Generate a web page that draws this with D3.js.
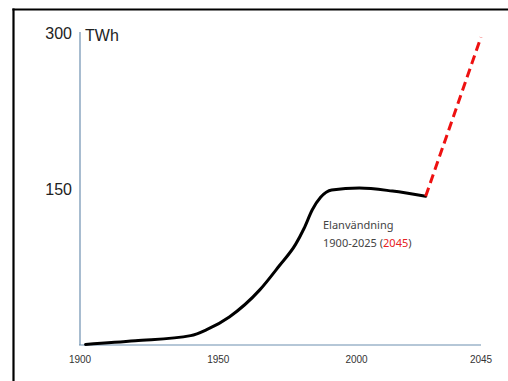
<!DOCTYPE html>
<html><head><meta charset="utf-8">
<script src="https://cdn.jsdelivr.net/npm/d3@7"></script>
<style>html,body{margin:0;padding:0;background:#fff;overflow:hidden;width:508px;height:381px;}svg{display:block;}</style>
</head><body>
<script>
const years = [1902, 1920, 1940, 1946, 1954, 1965, 1972, 1978, 1981, 1984, 1987, 1991, 2001, 2013, 2025];
const twh   = [0.5,  4,    9,    15,   27,   53,   76,   97,   112,  130,  142,  149,  151,  148,  143];
const forecastYears = [2025, 2045];
const forecastTwh   = [143, 296];
const xTicks = [1900, 1950, 2000, 2045];
const yTicks = [150, 300];
const unitLabel = "TWh";
const noteLine1 = "Elanvändning";
const noteLine2a = "1900-2025 (";
const noteLine2b = "2045";
const noteLine2c = ")";

const W = 508, H = 381;
const svg = d3.select("body").append("svg").attr("width", W).attr("height", H);

// frame (top and left edges visible)
svg.append("line").attr("x1", 13.5).attr("x2", 13.5).attr("y1", 8.4).attr("y2", H)
  .attr("stroke", "#000").attr("stroke-width", 2.2);
svg.append("line").attr("x1", 12.4).attr("x2", W).attr("y1", 9.5).attr("y2", 9.5)
  .attr("stroke", "#000").attr("stroke-width", 2.2);

const x = d3.scaleLinear().domain([1900, 2045]).range([80, 481]);
const y = d3.scaleLinear().domain([0, 300]).range([345, 33]);
const axisCol = "#6d8fb0";

// axes
svg.append("line").attr("x1", x(1900)).attr("x2", x(1900)).attr("y1", y(301)).attr("y2", y(0))
  .attr("stroke", axisCol).attr("stroke-width", 1.2);
svg.append("line").attr("x1", x(1900) - 1).attr("x2", x(2045)).attr("y1", y(0)).attr("y2", y(0))
  .attr("stroke", axisCol).attr("stroke-width", 1.2);

const sf = "'Liberation Sans', Arial, Helvetica, sans-serif";
// x tick labels
svg.append("g").selectAll("text").data(xTicks).join("text")
  .attr("x", d => x(d)).attr("y", 363)
  .attr("text-anchor", "middle")
  .attr("font-family", sf)
  .attr("font-size", 10).attr("fill", "#333")
  .text(d => d);

// y tick labels
svg.append("g").selectAll("text").data(yTicks).join("text")
  .attr("x", 72).attr("y", d => y(d) + 6)
  .attr("text-anchor", "end")
  .attr("font-family", sf)
  .attr("font-size", 16).attr("fill", "#222")
  .text(d => d);
svg.append("text").attr("x", 85).attr("y", y(300) + 8)
  .attr("font-family", sf)
  .attr("font-size", 16).attr("fill", "#222").text(unitLabel);

// historical line
const hist = years.map((yr, i) => [yr, twh[i]]);
svg.append("path").datum(hist)
  .attr("fill", "none").attr("stroke", "#000").attr("stroke-width", 3)
  .attr("stroke-linecap", "round").attr("stroke-linejoin", "round")
  .attr("d", d3.line().x(d => x(d[0])).y(d => y(d[1])).curve(d3.curveMonotoneX));

// forecast
const fc = forecastYears.map((yr, i) => [yr, forecastTwh[i]]);
svg.append("path").datum(fc)
  .attr("fill", "none").attr("stroke", "#ee1111").attr("stroke-width", 3)
  .attr("stroke-dasharray", "9,5")
  .attr("d", d3.line().x(d => x(d[0])).y(d => y(d[1])));

// note
const nf = "'Noto Sans', 'Open Sans', sans-serif";
svg.append("text").attr("x", 323).attr("y", 229)
  .attr("font-family", nf).attr("font-size", 11).attr("fill", "#444").text(noteLine1);
const t2 = svg.append("text").attr("x", 323).attr("y", 247)
  .attr("font-family", nf).attr("font-size", 11).attr("fill", "#444");
t2.append("tspan").text(noteLine2a);
t2.append("tspan").attr("fill", "#e62222").text(noteLine2b);
t2.append("tspan").text(noteLine2c);
</script>
</body></html>
